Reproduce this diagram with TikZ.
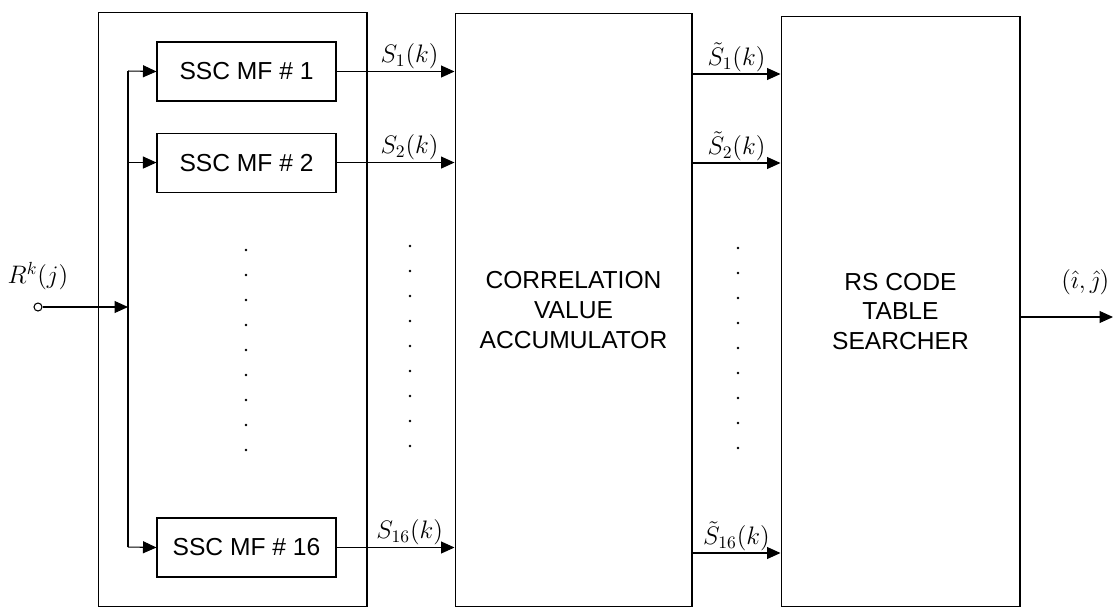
\documentclass[tikz,border=0pt]{standalone}
\usepackage{fontspec}
\setmainfont{Liberation Sans}
\usepackage{tikz}
\usetikzlibrary{arrows.meta, positioning, calc}

\begin{document}
\begin{tikzpicture}[
    x=0.02cm, y=-0.02cm,
    line width=0.6pt,
    mfbox/.style={draw, minimum width=3.58cm, minimum height=1.18cm, inner sep=0pt, font=\fontsize{14}{17}\selectfont},
    bigbox/.style={draw, inner sep=0pt, align=center, font=\fontsize{14}{17}\selectfont},
    sig/.style={font=\fontsize{14}{16}\selectfont, inner sep=1pt},
    arrow/.style={-{Triangle[length=2.7mm, width=2.4mm]}},
    vdot/.style={fill=black},
]
\useasboundingbox (0,0) rectangle (1118,613);

% Matched filter bank
\node[draw, minimum width=5.38cm, minimum height=11.9cm, inner sep=0pt] (bank) at (232.5,309.5) {};
\node[mfbox] (mf1) at (246.5,71.5) {SSC MF \# 1};
\node[mfbox, below=0.62cm of mf1] (mf2) {SSC MF \# 2};
\node[mfbox] (mf16) at (246.5,547.5) {SSC MF \# 16};

% Accumulator and searcher
\node[bigbox, minimum width=4.74cm, minimum height=11.88cm] (acc) at (573.5,310) {CORRELATION\\VALUE\\ACCUMULATOR};
\node[bigbox, minimum width=4.78cm, minimum height=11.82cm] (rs) at (900.5,311.5) {RS CODE\\TABLE\\SEARCHER};

% Input and bus
\node[draw, circle, inner sep=0pt, minimum size=0.16cm] (in) at (38,307) {};
\node[sig, above=0.2cm of in] (inlbl) {$R^k(j)$};
\coordinate (bustop) at (128,71);
\coordinate (busbot) at (128,547);
\draw (bustop) -- (busbot);
\draw[arrow] (in) -- (in -| bustop);
\draw[arrow] (bustop) -- (mf1.west);
\draw[arrow] (mf2.west -| bustop) -- (mf2.west);
\draw[arrow] (busbot) -- (mf16.west);

% Filter outputs
\draw[arrow] (mf1.east) -- node[sig, pos=0.62, above] {$S_1(k)$} (mf1.east -| acc.west);
\draw[arrow] (mf2.east) -- node[sig, pos=0.62, above] {$S_2(k)$} (mf2.east -| acc.west);
\draw[arrow] (mf16.east) -- node[sig, pos=0.62, above] {$S_{16}(k)$} (mf16.east -| acc.west);

% Accumulator outputs
\coordinate (t1) at (acc.east |- 0,74);
\coordinate (t2) at (acc.east |- 0,163);
\coordinate (t16) at (acc.east |- 0,553);
\draw[arrow] (t1) -- node[sig, midway, above] {$\tilde{S}_1(k)$} (t1 -| rs.west);
\draw[arrow] (t2) -- node[sig, midway, above] {$\tilde{S}_2(k)$} (t2 -| rs.west);
\draw[arrow] (t16) -- node[sig, midway, above] {$\tilde{S}_{16}(k)$} (t16 -| rs.west);

% Output
\coordinate (outend) at (1113,317);
\draw[arrow] (outend -| rs.east) -- node[sig, pos=0.7, above=0.4cm] {$(\hat{\imath},\hat{\jmath})$} (outend);

% Ellipsis dots
\foreach \k in {0,...,8} {
  \fill[vdot] (246,250+25*\k) circle (0.8pt);
  \fill[vdot] (410,246+25*\k) circle (0.8pt);
  \fill[vdot] (738,248+25*\k) circle (0.8pt);
}

\end{tikzpicture}
\end{document}
